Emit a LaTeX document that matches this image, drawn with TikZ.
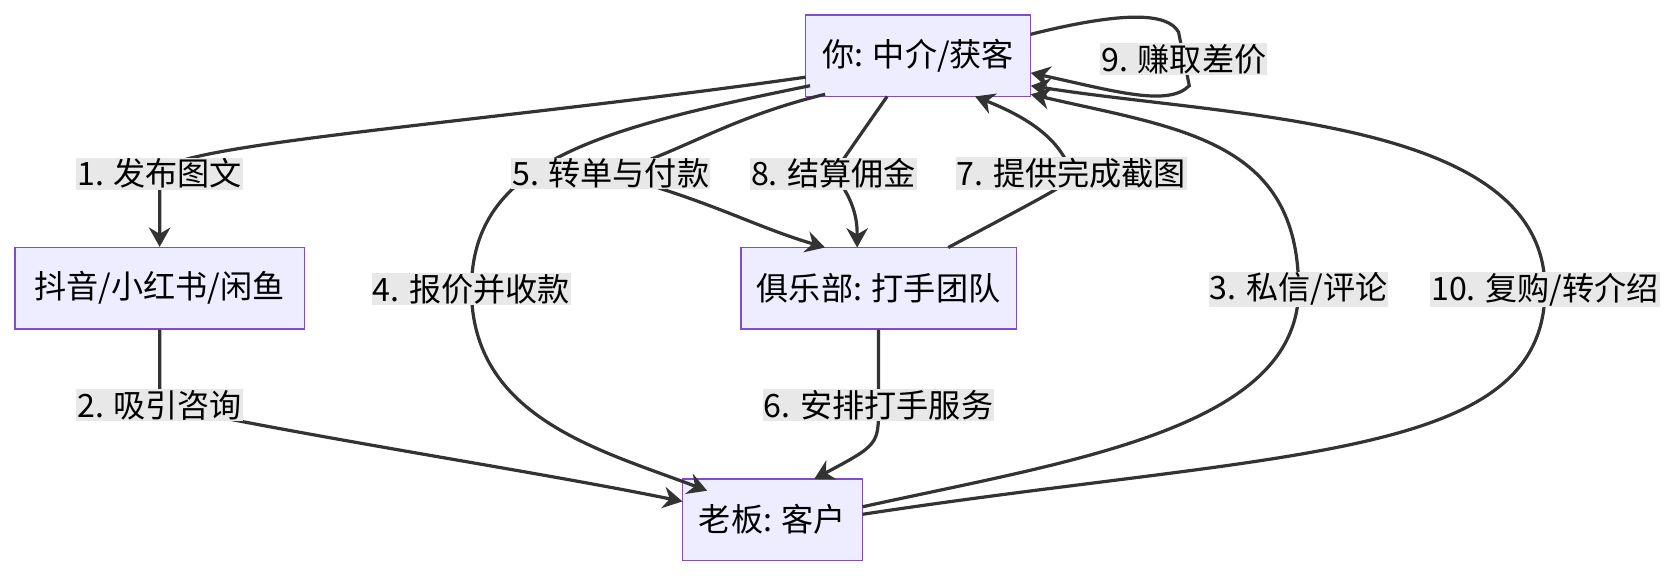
\documentclass[tikz,border=0pt]{standalone}
\usepackage{fontspec}
\setmainfont{Noto Sans CJK SC}
\usetikzlibrary{arrows.meta,positioning}

\tikzset{
  box/.style={draw=violet!60!blue!70, fill=blue!7, line width=1.2pt, minimum height=76pt, inner xsep=14pt, font=\fontsize{30}{36}\selectfont},
  lab/.style={fill=black!9, inner sep=1pt, font=\fontsize{30}{36}\selectfont},
  edge/.style={draw=black!80, line width=3pt, -{Stealth[length=18pt,width=20pt]}}
}

\begin{document}
\begin{tikzpicture}[x=1pt,y=-1pt]
    \useasboundingbox (0,0) rectangle (1568,541);

    \node[box, minimum width=210pt] (you) at (857,52) {你: 中介/获客};
    \node[box, minimum width=270pt] (media) at (149,269) {抖音/小红书/闲鱼};
    \node[box, minimum width=257pt] (club) at (820,269) {俱乐部: 打手团队};
    \node[box, minimum width=168pt] (boss) at (721,485) {老板: 客户};

    % label spots
    \coordinate (l1) at (149,162);
    \coordinate (l2) at (149,378);
    \coordinate (l3) at (1212,270);
    \coordinate (l4) at (440,270);
    \coordinate (l5) at (570,162);
    \coordinate (l6) at (820,378);
    \coordinate (l7) at (1000,162);
    \coordinate (l8) at (778,162);
    \coordinate (l9) at (1105,55);
    \coordinate (l10) at (1442,270);

    \draw[edge] (752,72) .. controls (450,115) and (149,135) .. (l1) .. controls (149,185) and (149,205) .. (media.north);
    \draw[edge] (media.south) .. controls (149,340) .. (l2) .. controls (300,410) and (500,440) .. (637,468);
    \draw[edge] (805,473) .. controls (1000,430) and (1212,400) .. (l3) .. controls (1212,130) and (1100,120) .. (962,88);
    \draw[edge] (756,80) .. controls (560,120) and (440,150) .. (l4) .. controls (440,390) and (560,420) .. (660,458);
    \draw[edge] (770,88) .. controls (680,110) and (640,140) .. (l5) .. controls (670,190) and (700,210) .. (770,231);
    \draw[edge] (club.south) .. controls (820,330) .. (l6) .. controls (820,415) .. (760,447);
    \draw[edge] (885,231) .. controls (1000,170) .. (l7) .. controls (990,130) and (960,110) .. (910,90);
    \draw[edge] (828,90) .. controls (800,130) .. (l8) .. controls (800,190) and (800,210) .. (800,231);
    \draw[edge] (962,32) .. controls (1050,10) and (1090,12) .. (1100,30) -- (l9) -- (1110,80) .. controls (1090,100) and (1040,85) .. (962,68);
    \draw[edge] (805,480) .. controls (1200,420) and (1442,430) .. (l10) .. controls (1442,110) and (1150,110) .. (962,80);

    \node[lab] (t1) at (l1) {1. 发布图文};
    \node[lab] (t2) at (l2) {2. 吸引咨询};
    \node[lab] (t3) at (l3) {3. 私信/评论};
    \node[lab] (t4) at (l4) {4. 报价并收款};
    \node[lab] (t5) at (l5) {5. 转单与付款};
    \node[lab] (t6) at (l6) {6. 安排打手服务};
    \node[lab] (t7) at (l7) {7. 提供完成截图};
    \node[lab] (t8) at (l8) {8. 结算佣金};
    \node[lab] (t9) at (l9) {9. 赚取差价};
    \node[lab] (t10) at (l10) {10. 复购/转介绍};
\end{tikzpicture}
\end{document}
